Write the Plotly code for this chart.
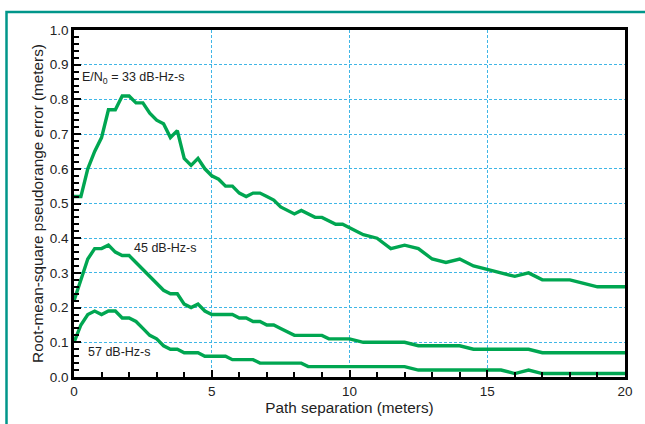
import plotly.graph_objects as go

# ---- data ----
x_33 = [0, 0.25, 0.5, 0.75, 1.0, 1.25, 1.5, 1.75, 2.0, 2.25, 2.5, 2.75, 3.0, 3.25, 3.5, 3.75,
        4.0, 4.25, 4.5, 4.75, 5.0, 5.25, 5.5, 5.75, 6.0, 6.25, 6.5, 6.75, 7.0, 7.25, 7.5, 7.75,
        8.0, 8.25, 8.5, 8.75, 9.0, 9.25, 9.5, 9.75, 10.0, 10.25, 10.5, 11.0, 11.5, 12.0, 12.5,
        13.0, 13.5, 14.0, 14.5, 15.0, 15.5, 16.0, 16.5, 17.0, 17.5, 18.0, 18.5, 19.0, 19.5, 20.0]
y_33 = [0.52, 0.52, 0.60, 0.65, 0.69, 0.77, 0.77, 0.81, 0.81, 0.79, 0.79, 0.76, 0.74, 0.73, 0.69, 0.71,
        0.63, 0.61, 0.63, 0.60, 0.58, 0.57, 0.55, 0.55, 0.53, 0.52, 0.53, 0.53, 0.52, 0.51, 0.49, 0.48,
        0.47, 0.48, 0.47, 0.46, 0.46, 0.45, 0.44, 0.44, 0.43, 0.42, 0.41, 0.40, 0.37, 0.38, 0.37,
        0.34, 0.33, 0.34, 0.32, 0.31, 0.30, 0.29, 0.30, 0.28, 0.28, 0.28, 0.27, 0.26, 0.26, 0.26]

x_45 = [0, 0.25, 0.5, 0.75, 1.0, 1.25, 1.5, 1.75, 2.0, 2.25, 2.5, 2.75, 3.0, 3.25, 3.5, 3.75,
        4.0, 4.25, 4.5, 4.75, 5.0, 5.25, 5.5, 5.75, 6.0, 6.25, 6.5, 6.75, 7.0, 7.25, 7.5, 7.75,
        8.0, 8.5, 9.0, 9.25, 9.5, 10.0, 10.5, 11.0, 11.5, 12.0, 12.5, 13.0, 13.5, 14.0, 14.5,
        15.0, 15.5, 16.0, 16.5, 17.0, 17.5, 18.0, 18.5, 19.0, 19.5, 20.0]
y_45 = [0.22, 0.28, 0.34, 0.37, 0.37, 0.38, 0.36, 0.35, 0.35, 0.33, 0.31, 0.29, 0.27, 0.25, 0.24, 0.24,
        0.21, 0.20, 0.21, 0.19, 0.18, 0.18, 0.18, 0.18, 0.17, 0.17, 0.16, 0.16, 0.15, 0.15, 0.14, 0.13,
        0.12, 0.12, 0.12, 0.11, 0.11, 0.11, 0.10, 0.10, 0.10, 0.10, 0.09, 0.09, 0.09, 0.09, 0.08,
        0.08, 0.08, 0.08, 0.08, 0.07, 0.07, 0.07, 0.07, 0.07, 0.07, 0.07]

x_57 = [0, 0.25, 0.5, 0.75, 1.0, 1.25, 1.5, 1.75, 2.0, 2.25, 2.5, 2.75, 3.0, 3.25, 3.5, 3.75,
        4.0, 4.25, 4.5, 4.75, 5.0, 5.25, 5.5, 5.75, 6.0, 6.25, 6.5, 6.75, 7.0, 7.5, 8.0, 8.25,
        8.5, 9.0, 10.0, 11.0, 12.0, 12.5, 13.0, 14.0, 15.0, 15.5, 16.0, 16.5, 17.0, 18.0, 19.0, 20.0]
y_57 = [0.10, 0.15, 0.18, 0.19, 0.18, 0.19, 0.19, 0.17, 0.17, 0.16, 0.14, 0.12, 0.11, 0.09, 0.08, 0.08,
        0.07, 0.07, 0.07, 0.06, 0.06, 0.06, 0.06, 0.05, 0.05, 0.05, 0.05, 0.04, 0.04, 0.04, 0.04, 0.04,
        0.03, 0.03, 0.03, 0.03, 0.03, 0.02, 0.02, 0.02, 0.02, 0.02, 0.01, 0.02, 0.01, 0.01, 0.01, 0.01]

x_ticks = [0, 5, 10, 15, 20]
y_ticks = [0.0, 0.1, 0.2, 0.3, 0.4, 0.5, 0.6, 0.7, 0.8, 0.9, 1.0]
y_tick_labels = [f"{v:.1f}" for v in y_ticks]

labels = ["E/N<sub>0</sub> = 33 dB-Hz-s", "45 dB-Hz-s", "57 dB-Hz-s"]
label_x = [0.22, 2.12, 0.42]
label_y = [0.862, 0.372, 0.072]

GREEN = "#00a651"
GRID = "#3fb6e6"
FONT = "Liberation Sans, Arial, Helvetica, sans-serif"

fig = go.Figure()
for xs, ys in [(x_33, y_33), (x_45, y_45), (x_57, y_57)]:
    fig.add_trace(go.Scatter(x=xs, y=ys, mode="lines",
                             line=dict(color=GREEN, width=3.4),
                             showlegend=False, hoverinfo="skip"))

for t, lx, ly in zip(labels, label_x, label_y):
    fig.add_annotation(x=lx, y=ly, text=t, showarrow=False, xanchor="left",
                       yanchor="middle", font=dict(family=FONT, size=12.5, color="#222"))

# teal outer frame
fig.add_shape(type="rect", xref="paper", yref="paper",
              x0=-0.1225, x1=1.05, y0=-0.2, y1=1.052,
              line=dict(color="#00968a", width=2.5), layer="below")

fig.update_xaxes(range=[0, 20], tickvals=x_ticks, ticktext=[str(v) for v in x_ticks],
                 showline=True, linecolor="black", linewidth=2.5, mirror=True,
                 ticks="inside", ticklen=7, tickwidth=2, tickcolor="black",
                 minor=dict(dtick=1, ticks="inside", ticklen=5, tickwidth=2,
                            tickcolor="black", showgrid=False),
                 showgrid=True, gridcolor=GRID, gridwidth=1, griddash="3px,2px",
                 zeroline=False,
                 tickfont=dict(family=FONT, size=13.5, color="#222"),
                 title=dict(text="Path separation (meters)", standoff=1,
                            font=dict(family=FONT, size=15.3, color="#222")))
fig.update_yaxes(range=[0, 1.0], tickvals=y_ticks, ticktext=y_tick_labels,
                 showline=True, linecolor="black", linewidth=2.5, mirror=True,
                 ticks="inside", ticklen=7, tickwidth=2, tickcolor="black",
                 minor=dict(dtick=0.02, ticks="inside", ticklen=5, tickwidth=2,
                            tickcolor="black", showgrid=False),
                 showgrid=True, gridcolor=GRID, gridwidth=1, griddash="3px,2px",
                 zeroline=False,
                 tickfont=dict(family=FONT, size=13.5, color="#222"),
                 title=dict(text="Root-mean-square pseudorange error (meters)", standoff=3,
                            font=dict(family=FONT, size=15.3, color="#222")))

fig.update_layout(width=645, height=424,
                  margin=dict(l=74, r=16, t=30, b=47),
                  paper_bgcolor="white", plot_bgcolor="white")

fig.write_html("out.html")
